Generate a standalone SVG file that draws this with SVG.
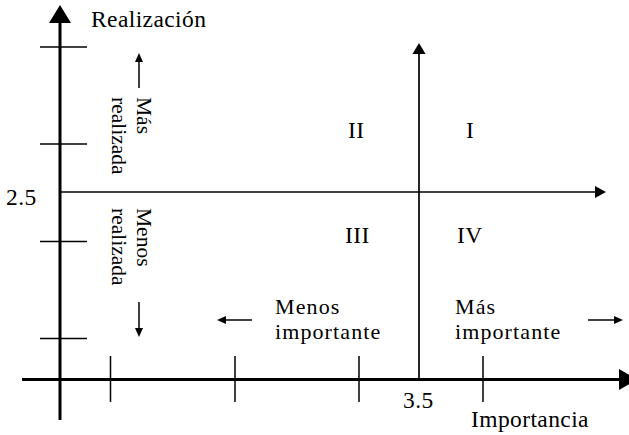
<svg xmlns="http://www.w3.org/2000/svg" width="629" height="435" viewBox="0 0 629 435">
<style>
text{font-family:"Liberation Serif","Times New Roman",serif;fill:#000;font-size:23.5px;letter-spacing:0.4px}
.two{font-size:22px;letter-spacing:1.1px}
.r{font-size:21.5px;letter-spacing:0}
.ax{stroke:#000;stroke-width:3;fill:none}
.tk{stroke:#000;stroke-width:1.5;fill:none}
.mid{stroke:#000;stroke-width:1.7;fill:none}
.sm{stroke:#000;stroke-width:1.5;fill:none}
.hd{fill:#000;stroke:none}
</style>
<rect width="629" height="435" fill="#fff"/>
<g id="connectors">
<line class="ax" x1="60" y1="420" x2="60" y2="20"/>
<polygon class="hd" points="60,5 49,23 71,23"/>
<line class="ax" x1="22" y1="379.5" x2="622" y2="379.5"/>
<polygon class="hd" points="619,369 619,390 637,379.5"/>
<line class="tk" x1="40" y1="47" x2="87" y2="47"/>
<line class="tk" x1="40" y1="144" x2="87" y2="144"/>
<line class="tk" x1="40" y1="241.5" x2="87" y2="241.5"/>
<line class="tk" x1="40" y1="338.5" x2="87" y2="338.5"/>
<line class="tk" x1="110.5" y1="356" x2="110.5" y2="402"/>
<line class="tk" x1="235" y1="356" x2="235" y2="402"/>
<line class="tk" x1="359" y1="356" x2="359" y2="402"/>
<line class="tk" x1="483" y1="356" x2="483" y2="402"/>
<line class="mid" x1="60" y1="192" x2="597" y2="192"/>
<polygon class="hd" points="595,186 595,198 606,192"/>
<line class="mid" x1="419" y1="379" x2="419" y2="52"/>
<polygon class="hd" points="419,43 412.5,54 425.5,54"/>
<line class="sm" x1="139" y1="88" x2="139" y2="60"/>
<polygon class="hd" points="139,53 135,62 143,62"/>
<line class="sm" x1="139" y1="302" x2="139" y2="330"/>
<polygon class="hd" points="139,337 135,328 143,328"/>
<line class="sm" x1="252" y1="320" x2="224" y2="320"/>
<polygon class="hd" points="217,320 226,316 226,324"/>
<line class="sm" x1="588" y1="320" x2="616" y2="320"/>
<polygon class="hd" points="623,320 614,316 614,324"/>
</g>
<g id="labels">
<text x="91" y="27">Realización</text>
<text x="6" y="205">2.5</text>
<text x="403" y="408">3.5</text>
<text x="471" y="427">Importancia</text>
<text x="348" y="138">II</text>
<text x="466" y="138">I</text>
<text x="345" y="243">III</text>
<text x="457" y="243">IV</text>
<text class="two" x="275" y="314">Menos</text>
<text class="two" x="275" y="339">importante</text>
<text class="two" x="455" y="314">Más</text>
<text class="two" x="455" y="339">importante</text>
<text class="r" transform="translate(137,97) rotate(90)">Más</text>
<text class="r" transform="translate(112,97) rotate(90)">realizada</text>
<text class="r" transform="translate(137,208) rotate(90)">Menos</text>
<text class="r" transform="translate(112,208) rotate(90)">realizada</text>
</g>
</svg>
